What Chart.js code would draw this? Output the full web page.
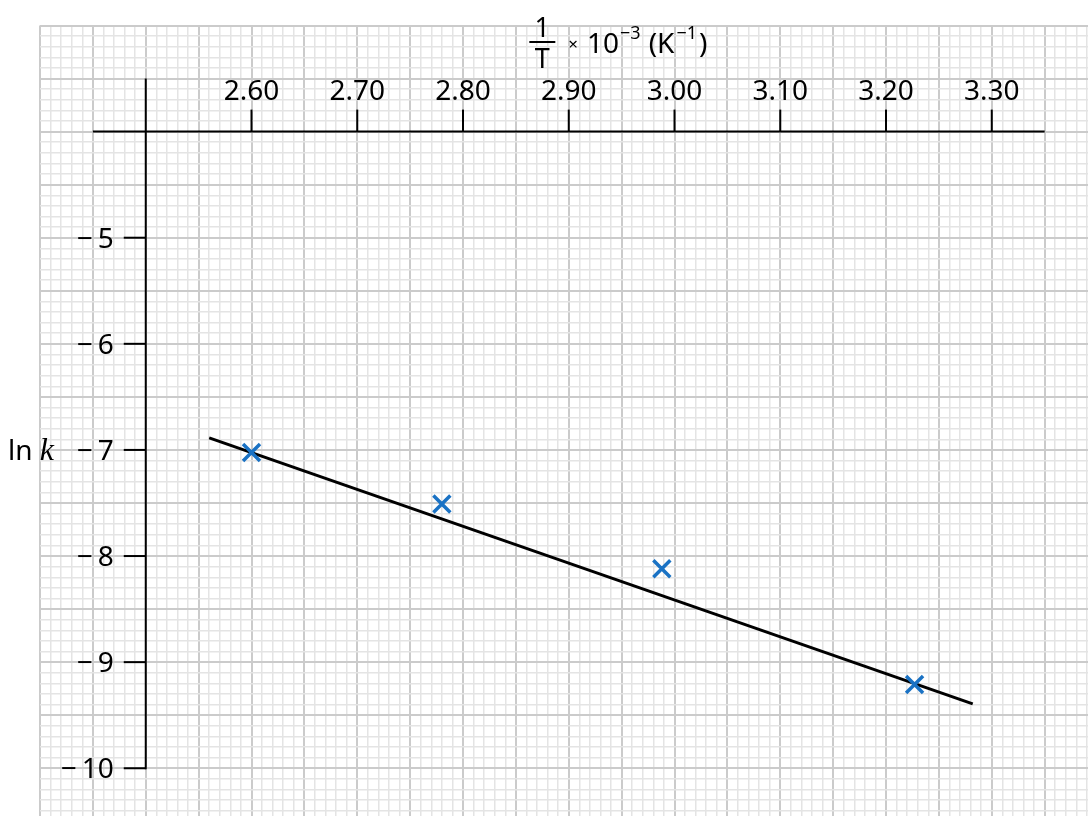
<!DOCTYPE html>
<html><head><meta charset="utf-8">
<script src="https://cdn.jsdelivr.net/npm/chart.js@4/dist/chart.umd.min.js"></script>
<style>html,body{margin:0;padding:0;background:#fff;overflow:hidden}#wrap{width:1088px;height:816px;position:relative}</style>
</head><body><div id="wrap"><canvas id="c" width="1088" height="816"></canvas></div>
<script>
// Data
const invT = [2.60, 2.78, 2.988, 3.227];          // 1/T x 10^-3 (K^-1)
const lnK = [-7.025, -7.51, -8.12, -9.21];        // ln k
const fitX = [2.56, 3.282];                       // best-fit line ends
const fitY = [-6.886, -9.394];
const xTickValues = [2.60, 2.70, 2.80, 2.90, 3.00, 3.10, 3.20, 3.30];
const xTickLabels = ['2.60', '2.70', '2.80', '2.90', '3.00', '3.10', '3.20', '3.30'];
const yTickValues = [-5, -6, -7, -8, -9, -10];
const yTickLabels = ['\u2212\u20095', '\u2212\u20096', '\u2212\u20097', '\u2212\u20098', '\u2212\u20099', '\u2212\u200910'];
const xAxisAtY = -4;
const yAxisAtX = 2.50;
const xAxisRange = [2.45, 3.35];
const yAxisRange = [-3.5, -10];
const xRange = [2.40, 3.391];
const yRange = [-10.45, -3.0];

const FONT = '"Noto Sans", "Open Sans", sans-serif';

const axesPlugin = {
  id: 'paperAxes',
  beforeDatasetsDraw(chart) {
    const ctx = chart.ctx;
    const xs = chart.scales.x, ys = chart.scales.y;
    ctx.save();
    ctx.strokeStyle = '#000';
    ctx.fillStyle = '#000';
    ctx.lineWidth = 2;
    ctx.lineCap = 'butt';
    // x axis
    const ay = ys.getPixelForValue(xAxisAtY);
    ctx.beginPath();
    ctx.moveTo(xs.getPixelForValue(xAxisRange[0]), ay);
    ctx.lineTo(xs.getPixelForValue(xAxisRange[1]), ay);
    ctx.stroke();
    // y axis
    const ax = xs.getPixelForValue(yAxisAtX);
    ctx.beginPath();
    ctx.moveTo(ax, ys.getPixelForValue(yAxisRange[0]));
    ctx.lineTo(ax, ys.getPixelForValue(yAxisRange[1]) + 1);
    ctx.stroke();
    // x ticks + labels
    ctx.font = '28px ' + FONT;
    ctx.textAlign = 'center';
    ctx.textBaseline = 'alphabetic';
    xTickValues.forEach((v, i) => {
      const px = xs.getPixelForValue(v);
      ctx.beginPath();
      ctx.moveTo(px, ay);
      ctx.lineTo(px, ay - 22);
      ctx.stroke();
      ctx.fillText(xTickLabels[i], px, ay - 32);
    });
    // y ticks + labels
    ctx.textAlign = 'right';
    ctx.textBaseline = 'middle';
    yTickValues.forEach((v, i) => {
      const py = ys.getPixelForValue(v);
      ctx.beginPath();
      ctx.moveTo(ax, py);
      ctx.lineTo(ax - 22, py);
      ctx.stroke();
      ctx.fillText(yTickLabels[i], ax - 32, py + 2);
    });
    // y title: ln k
    const ty = ys.getPixelForValue(-7) + 2;
    ctx.textAlign = 'left';
    ctx.font = '28px ' + FONT;
    ctx.fillText('ln', 8, ty);
    const lnW = ctx.measureText('ln ').width;
    ctx.font = 'italic 32px "Liberation Serif", serif';
    ctx.fillText('k', 8 + lnW, ty);
    // x title: 1/T x 10^-3 (K^-1)
    const cx = xs.getPixelForValue(2.875);
    ctx.textBaseline = 'alphabetic';
    ctx.textAlign = 'center';
    ctx.font = '27px ' + FONT;
    ctx.fillText('1', cx, 37);
    ctx.fillText('T', cx, 68);
    ctx.lineWidth = 2;
    ctx.beginPath();
    ctx.moveTo(cx - 13, 42);
    ctx.lineTo(cx + 13, 42);
    ctx.stroke();
    ctx.textAlign = 'left';
    let x = cx + 26;
    ctx.font = '17px ' + FONT;
    ctx.fillText('\u00d7', x, 50);
    x += ctx.measureText('\u00d7').width + 9;
    ctx.font = '28px ' + FONT;
    ctx.fillText('10', x, 53);
    x += ctx.measureText('10').width + 1;
    ctx.font = '18px ' + FONT;
    ctx.fillText('\u22123', x, 39);
    x += ctx.measureText('\u22123').width + 8;
    ctx.font = '28px ' + FONT;
    ctx.fillText('(K', x, 53);
    x += ctx.measureText('(K').width + 2;
    ctx.font = '18px ' + FONT;
    ctx.fillText('\u22121', x, 39);
    x += ctx.measureText('\u22121').width + 2;
    ctx.font = '28px ' + FONT;
    ctx.fillText(')', x, 53);
    ctx.restore();
  }
};

const isMajorX = v => Math.round(v * 100) % 5 === 0;
const isMajorY = v => Math.round(v * 10) % 5 === 0;

new Chart(document.getElementById('c'), {
  type: 'scatter',
  data: {
    datasets: [
      {
        label: 'best fit',
        type: 'line',
        data: fitX.map((v, i) => ({ x: v, y: fitY[i] })),
        borderColor: '#000',
        borderWidth: 3,
        pointRadius: 0,
        fill: false,
        order: 2
      },
      {
        label: 'ln k',
        data: invT.map((v, i) => ({ x: v, y: lnK[i] })),
        pointStyle: 'crossRot',
        pointRadius: 12,
        pointBorderWidth: 3.5,
        borderColor: '#1a72c4',
        backgroundColor: '#1a72c4',
        order: 1
      }
    ]
  },
  options: {
    responsive: false,
    devicePixelRatio: 1,
    animation: false,
    layout: { autoPadding: false, padding: { left: 40, top: 25.5, right: 0, bottom: 0 } },
    plugins: { legend: { display: false }, tooltip: { enabled: false } },
    scales: {
      x: {
        type: 'linear',
        min: xRange[0], max: xRange[1],
        border: { display: false },
        grid: {
          drawTicks: false, tickLength: 0,
          color: c => isMajorX(c.tick.value) ? '#cbcbcb' : '#e4e4e4',
          lineWidth: c => isMajorX(c.tick.value) ? 2 : 1.5
        },
        ticks: { display: false, stepSize: 0.01, includeBounds: false }
      },
      y: {
        type: 'linear',
        min: yRange[0], max: yRange[1],
        border: { display: false },
        grid: {
          drawTicks: false, tickLength: 0,
          color: c => isMajorY(c.tick.value) ? '#cbcbcb' : '#e4e4e4',
          lineWidth: c => isMajorY(c.tick.value) ? 2 : 1.5
        },
        ticks: { display: false, stepSize: 0.1, includeBounds: false }
      }
    }
  },
  plugins: [axesPlugin]
});
</script></body></html>
